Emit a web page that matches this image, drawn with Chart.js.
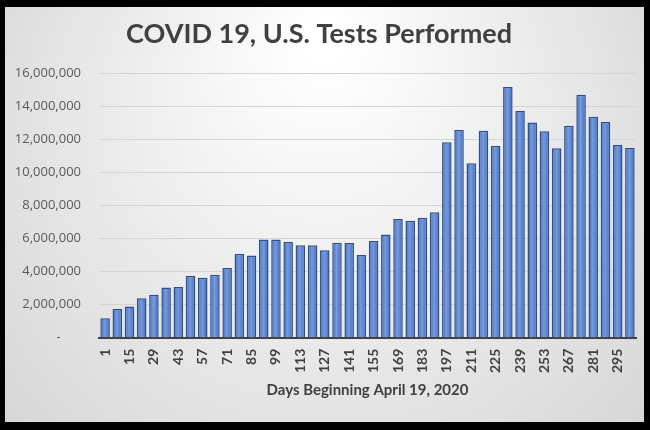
<!DOCTYPE html>
<html>
<head>
<meta charset="utf-8">
<script src="https://cdn.jsdelivr.net/npm/chart.js@4/dist/chart.umd.min.js"></script>
<style>
  html, body { margin: 0; padding: 0; background: #000; }
  #wrap { width: 650px; height: 430px; }
</style>
</head>
<body>
<div id="wrap"><canvas id="myChart" width="650" height="430"></canvas></div>
<script>
// days since April 19, 2020 (weekly)
const days = [1, 8, 15, 22, 29, 36, 43, 50, 57, 64, 71, 78, 85, 92, 99, 106, 113, 120, 127, 134, 141, 148,
    155, 162, 169, 176, 183, 190, 197, 204, 211, 218, 225, 232, 239, 246, 253, 260, 267, 274, 281, 288, 295, 302];

// tests performed per week
const tests = [1180000, 1740000, 1880000, 2390000, 2590000, 3030000, 3070000, 3730000, 3630000, 3810000, 4210000,
    5070000, 4970000, 5950000, 5950000, 5790000, 5590000, 5590000, 5290000, 5750000, 5730000, 5010000,
    5850000, 6250000, 7180000, 7080000, 7260000, 7600000, 11830000, 12570000, 10560000, 12530000, 11610000,
    15180000, 13740000, 13030000, 12490000, 11470000, 12830000, 14700000, 13370000, 13050000, 11670000, 11490000];

const yTicks = [0, 2000000, 4000000, 6000000, 8000000, 10000000, 12000000, 14000000, 16000000];

const frame = {
    id: 'frame',
    beforeDraw(chart) {
        const c = chart.ctx;
        c.save();
        c.fillStyle = '#000';
        c.fillRect(0, 0, chart.width, chart.height);
        const g = c.createRadialGradient(325, 40, 20, 325, 200, 480);
        g.addColorStop(0, '#ffffff');
        g.addColorStop(1, '#cfcfcf');
        c.fillStyle = g;
        c.fillRect(5, 7, 639, 415);
        c.restore();
    }
};

// light stripe down each bar for the rounded look
const shine = {
    id: 'shine',
    afterDatasetsDraw(chart) {
        const c = chart.ctx;
        c.save();
        chart.getDatasetMeta(0).data.forEach(bar => {
            const w = bar.width;
            const g = c.createLinearGradient(bar.x - w / 2, 0, bar.x + w / 2, 0);
            g.addColorStop(0, 'rgba(40,70,140,0.35)');
            g.addColorStop(0.45, 'rgba(150,185,240,0.45)');
            g.addColorStop(1, 'rgba(40,70,140,0.35)');
            c.fillStyle = g;
            c.fillRect(bar.x - w / 2 + 1.5, bar.y + 1.5, w - 3, bar.base - bar.y - 1.5);
        });
        c.restore();
    }
};

const info = {
    labels: days,
    datasets: [{
        data: tests,
        backgroundColor: '#5A84D2',
        borderColor: '#2C4F8E',
        borderWidth: 1.5,
        barPercentage: 0.78,
        categoryPercentage: 1.0,
    }]
};

const config = {
    type: 'bar',
    data: info,
    options: {
        responsive: false,
        animation: false,
        layout: { padding: { left: 2, right: 14, top: 8, bottom: 27 } },
        plugins: {
            legend: { display: false },
            tooltip: { enabled: false },
            title: {
                display: true,
                text: 'COVID 19, U.S. Tests Performed',
                color: '#404040',
                font: { family: 'Lato', size: 27, weight: 'bold' },
                padding: { top: 10, bottom: 23 }
            }
        },
        scales: {
            x: {
                grid: { display: false },
                border: { color: '#404040', width: 2 },
                ticks: {
                    autoSkip: false,
                    maxRotation: 90,
                    minRotation: 90,
                    color: '#404040',
                    font: { family: 'Lato', size: 14, weight: 'bold' },
                    callback: (v, i) => i % 2 === 0 ? days[i] : ''
                },
                title: {
                    display: true,
                    text: 'Days Beginning April 19, 2020',
                    color: '#404040',
                    font: { family: 'Lato', size: 15, weight: 'bold' },
                    padding: { top: 5 }
                }
            },
            y: {
                min: 0,
                max: 16000000,
                afterBuildTicks: axis => { axis.ticks = yTicks.map(v => ({ value: v })); },
                afterFit: axis => { axis.width = 97; },
                grid: { color: '#d4d4d4', drawTicks: false },
                border: { display: false },
                ticks: {
                    padding: 18,
                    color: '#595959',
                    font: { family: 'Open Sans', size: 13 },
                    callback: v => v === 0 ? '-      ' : v.toLocaleString('en-US')
                }
            }
        }
    },
    plugins: [frame, shine]
};

const myChart = new Chart(document.getElementById('myChart'), config);
</script>
</body>
</html>
